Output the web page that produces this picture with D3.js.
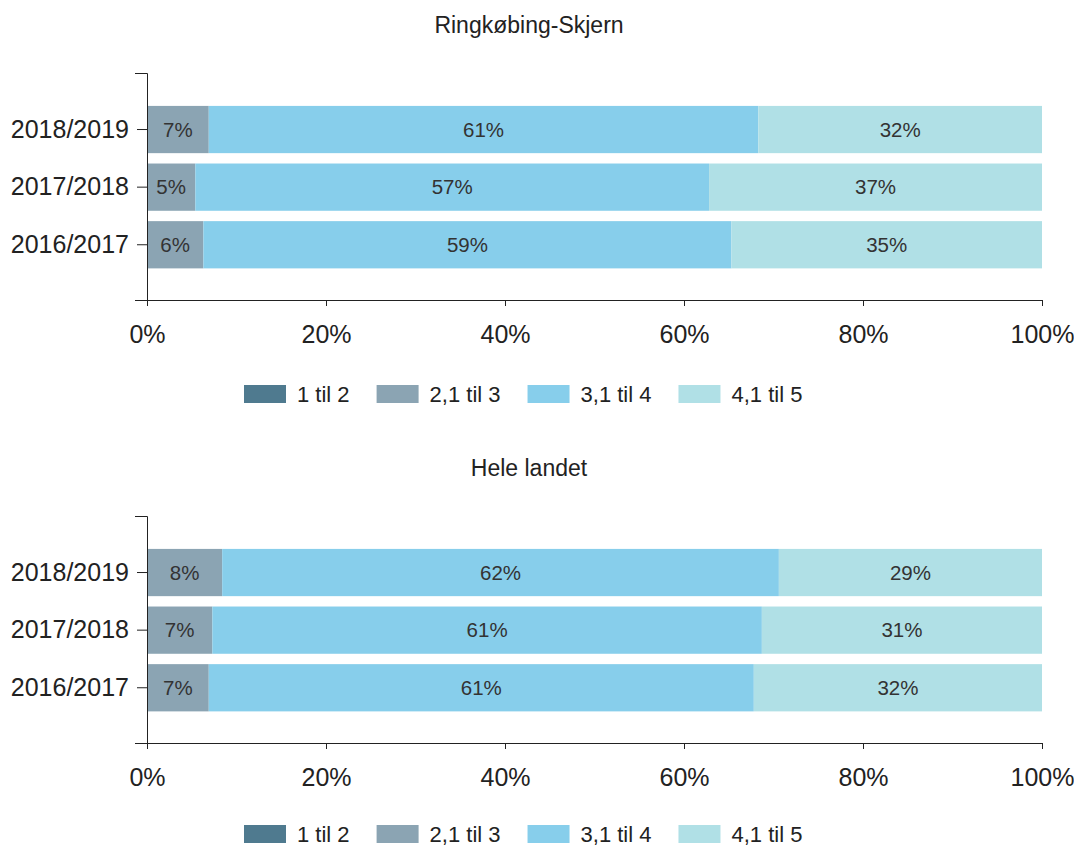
<!DOCTYPE html>
<html>
<head>
<meta charset="utf-8">
<script src="https://cdn.jsdelivr.net/npm/d3@7"></script>
<style>
    body { margin: 0; background: #fff; }
    text { font-family: "Liberation Sans", Arial, sans-serif; fill: #222; }
    .axis path, .axis line { stroke: #222; }
</style>
</head>
<body>
<svg id="chart"></svg>
<script>
const seasons = ['2018/2019', '2017/2018', '2016/2017'];
const groups = ['1 til 2', '2,1 til 3', '3,1 til 4', '4,1 til 5'];
const colors = ['#4f7a8f', '#8ba4b3', '#87ceeb', '#b0e0e6'];
const xTicks = [0, 20, 40, 60, 80, 100];

// Ringkøbing-Skjern, share in % per season
const ringOneToTwo = [0, 0, 0];
const ringTwoToThree = [6.9, 5.4, 6.3];
const ringThreeToFour = [61.4, 57.4, 59.0];
const ringFourToFive = [31.7, 37.2, 34.7];

// Hele landet
const landOneToTwo = [0, 0, 0];
const landTwoToThree = [8.4, 7.3, 6.9];
const landThreeToFour = [62.2, 61.4, 60.9];
const landFourToFive = [29.4, 31.3, 32.2];

const width = 1074;
const height = 846;

const svg = d3.select('#chart')
    .attr('width', width)
    .attr('height', height);

function buildRows(a, b, c, d) {
    return seasons.map((s, i) => ({
        season: s,
        '1 til 2': a[i],
        '2,1 til 3': b[i],
        '3,1 til 4': c[i],
        '4,1 til 5': d[i]
    }));
}

const x = d3.scaleLinear()
    .domain([0, 100])
    .range([147, 1042]);

const color = d3.scaleOrdinal()
    .domain(groups)
    .range(colors);

function drawPanel(offset, title, rows, legendY) {
    const g = svg.append('g').attr('transform', `translate(0,${offset})`);

    g.append('text')
        .attr('x', 529)
        .attr('y', 25)
        .attr('dy', '0.35em')
        .attr('text-anchor', 'middle')
        .style('font-size', '23px')
        .text(title);

    const y = d3.scaleBand()
        .domain(seasons)
        .range([73, 300])
        .paddingInner(0.18)
        .paddingOuter(0.56)
        .align(0.51);

    const stacked = d3.stack().keys(groups)(rows);

    const layer = g.selectAll('.layer')
        .data(stacked)
        .enter().append('g')
        .attr('class', 'layer')
        .attr('fill', d => color(d.key));

    layer.selectAll('rect')
        .data(d => d)
        .enter().append('rect')
        .attr('x', d => x(d[0]))
        .attr('y', d => y(d.data.season))
        .attr('width', d => x(d[1]) - x(d[0]))
        .attr('height', y.bandwidth());

    layer.selectAll('.val')
        .data(d => d.filter(p => p[1] - p[0] >= 1))
        .enter().append('text')
        .attr('class', 'val')
        .attr('x', d => (x(d[0]) + x(d[1])) / 2)
        .attr('y', d => y(d.data.season) + y.bandwidth() / 2)
        .attr('dy', '0.35em')
        .attr('text-anchor', 'middle')
        .style('font-size', '20.5px')
        .style('fill', '#333')
        .text(d => Math.round(d[1] - d[0]) + '%');

    g.append('g')
        .attr('class', 'axis')
        .attr('transform', 'translate(147,0)')
        .call(d3.axisLeft(y).tickSize(10).tickSizeOuter(12).tickPadding(8))
        .call(a => a.selectAll('text').style('font-size', '25px').attr('fill', '#222'));

    g.append('g')
        .attr('class', 'axis')
        .attr('transform', 'translate(0,300)')
        .call(d3.axisBottom(x).tickValues(xTicks).tickFormat(d => d + '%')
            .tickSize(6).tickSizeOuter(6).tickPadding(19))
        .call(a => a.selectAll('text').style('font-size', '25px').attr('fill', '#222'));

    // legend
    const legend = g.append('g').attr('transform', `translate(0,${legendY})`);
    let lx = 244;
    groups.forEach(k => {
        const item = legend.append('g').attr('transform', `translate(${lx},0)`);
        item.append('rect')
            .attr('x', 0)
            .attr('y', -9)
            .attr('width', 42)
            .attr('height', 18)
            .attr('fill', color(k));
        const t = item.append('text')
            .attr('x', 53)
            .attr('y', 0)
            .attr('dy', '0.35em')
            .style('font-size', '22px')
            .text(k);
        lx += 53 + t.node().getComputedTextLength() + 27;
    });
}

drawPanel(0, 'Ringkøbing-Skjern', buildRows(ringOneToTwo, ringTwoToThree, ringThreeToFour, ringFourToFive), 394);
drawPanel(443, 'Hele landet', buildRows(landOneToTwo, landTwoToThree, landThreeToFour, landFourToFive), 391);
</script>
</body>
</html>
